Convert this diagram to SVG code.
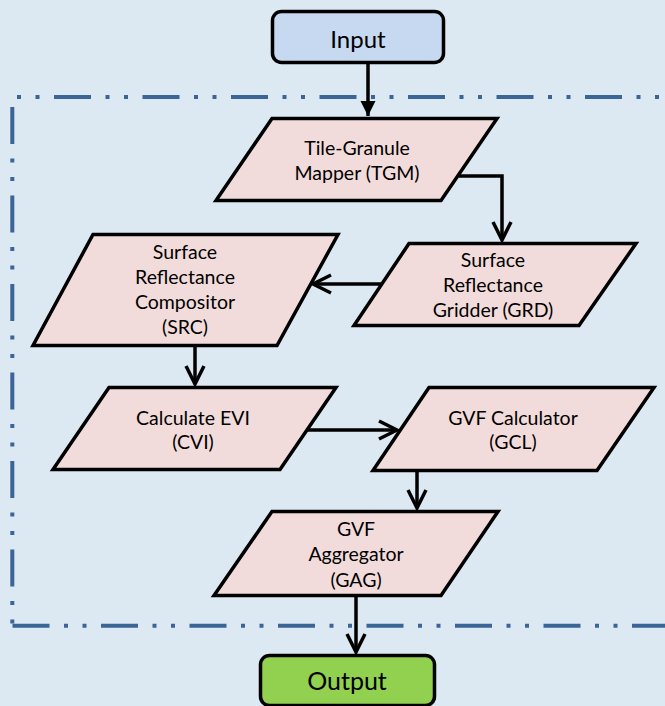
<svg xmlns="http://www.w3.org/2000/svg" width="665" height="706" viewBox="0 0 665 706">
<style>
.bg{fill:#dce9f3}
.frame{fill:none;stroke:#3b6497;stroke-width:4;stroke-linecap:butt}
.proc{fill:#f2dcdb;stroke:#000;stroke-width:3.5;stroke-linejoin:miter}
.term{stroke:#000;stroke-width:3.5}
.conn{fill:none;stroke:#000;stroke-width:3.5}
text{font-family:Lato,"Liberation Sans",sans-serif;fill:#000;text-anchor:middle}
.t{font-size:19.5px}
.big{font-size:24px}
</style>
<defs>
<marker id="open" markerUnits="userSpaceOnUse" markerWidth="26" markerHeight="24" refX="21" refY="11" orient="auto" overflow="visible">
<path d="M3,2 L21,11 L3,20" fill="none" stroke="#000" stroke-width="3.5"/>
</marker>
<marker id="fill" markerUnits="userSpaceOnUse" markerWidth="18" markerHeight="18" refX="15" refY="7.5" orient="auto" overflow="visible">
<path d="M0,0 L15,7.5 L0,15 z" fill="#000"/>
</marker>
</defs>
<rect class="bg" x="0" y="0" width="665" height="706"/>
<g id="frame">
<line class="frame" x1="17" y1="97" x2="700" y2="97" stroke-dasharray="4 14.5 4 14.5 37 14.5"/>
<line class="frame" x1="12.3" y1="107" x2="12.3" y2="624" stroke-dasharray="37 14.5 4 14.5 4 14.5"/>
<line class="frame" x1="12.5" y1="625.7" x2="700" y2="625.7" stroke-dasharray="37 14.5 4 14.5 4 14.5"/>
</g>
<g id="connectors">
<line class="conn" x1="368" y1="64" x2="368" y2="116" marker-end="url(#fill)"/>
<path class="conn" d="M459,176 H502 V240" marker-end="url(#open)"/>
<path class="conn" d="M381,284 H313" marker-end="url(#open)"/>
<path class="conn" d="M195,347 V384" marker-end="url(#open)"/>
<path class="conn" d="M307,430 H397" marker-end="url(#open)"/>
<path class="conn" d="M417,472 V508" marker-end="url(#open)"/>
<path class="conn" d="M356,597 V652" marker-end="url(#open)"/>
</g>
<g id="input">
<rect class="term" x="272.5" y="11.5" width="171" height="51" rx="9" fill="#c6d9f1"/>
<text class="big" x="358" y="48">Input</text>
</g>
<g id="tgm">
<polygon class="proc" points="272,118.5 497,118.5 441,200.5 216,200.5"/>
<text class="t" x="357" y="155">Tile-Granule</text>
<text class="t" x="357" y="180">Mapper (TGM)</text>
</g>
<g id="grd">
<polygon class="proc" points="409,243.5 636,243.5 579,325.5 354,325.5"/>
<text class="t" x="493" y="267">Surface</text>
<text class="t" x="493" y="292">Reflectance</text>
<text class="t" x="493" y="317">Gridder (GRD)</text>
</g>
<g id="src">
<polygon class="proc" points="93,234.5 338,234.5 277,345.5 33,345.5"/>
<text class="t" x="185" y="259">Surface</text>
<text class="t" x="185" y="284">Reflectance</text>
<text class="t" x="185" y="309">Compositor</text>
<text class="t" x="185" y="334">(SRC)</text>
</g>
<g id="cvi">
<polygon class="proc" points="109,387.5 336,387.5 280,469.5 53,469.5"/>
<text class="t" x="193" y="425">Calculate EVI</text>
<text class="t" x="193" y="449">(CVI)</text>
</g>
<g id="gcl">
<polygon class="proc" points="429,387.5 654,387.5 597,470.5 373,470.5"/>
<text class="t" x="513" y="425">GVF Calculator</text>
<text class="t" x="513" y="449">(GCL)</text>
</g>
<g id="gag">
<polygon class="proc" points="272,511.5 498,511.5 441,595.5 214,595.5"/>
<text class="t" x="356" y="536">GVF</text>
<text class="t" x="356" y="561">Aggregator</text>
<text class="t" x="356" y="587">(GAG)</text>
</g>
<g id="output">
<rect class="term" x="260.5" y="655.5" width="174" height="50" rx="9" fill="#92d050"/>
<text class="big" x="347" y="690" style="font-size:25px">Output</text>
</g>
</svg>
